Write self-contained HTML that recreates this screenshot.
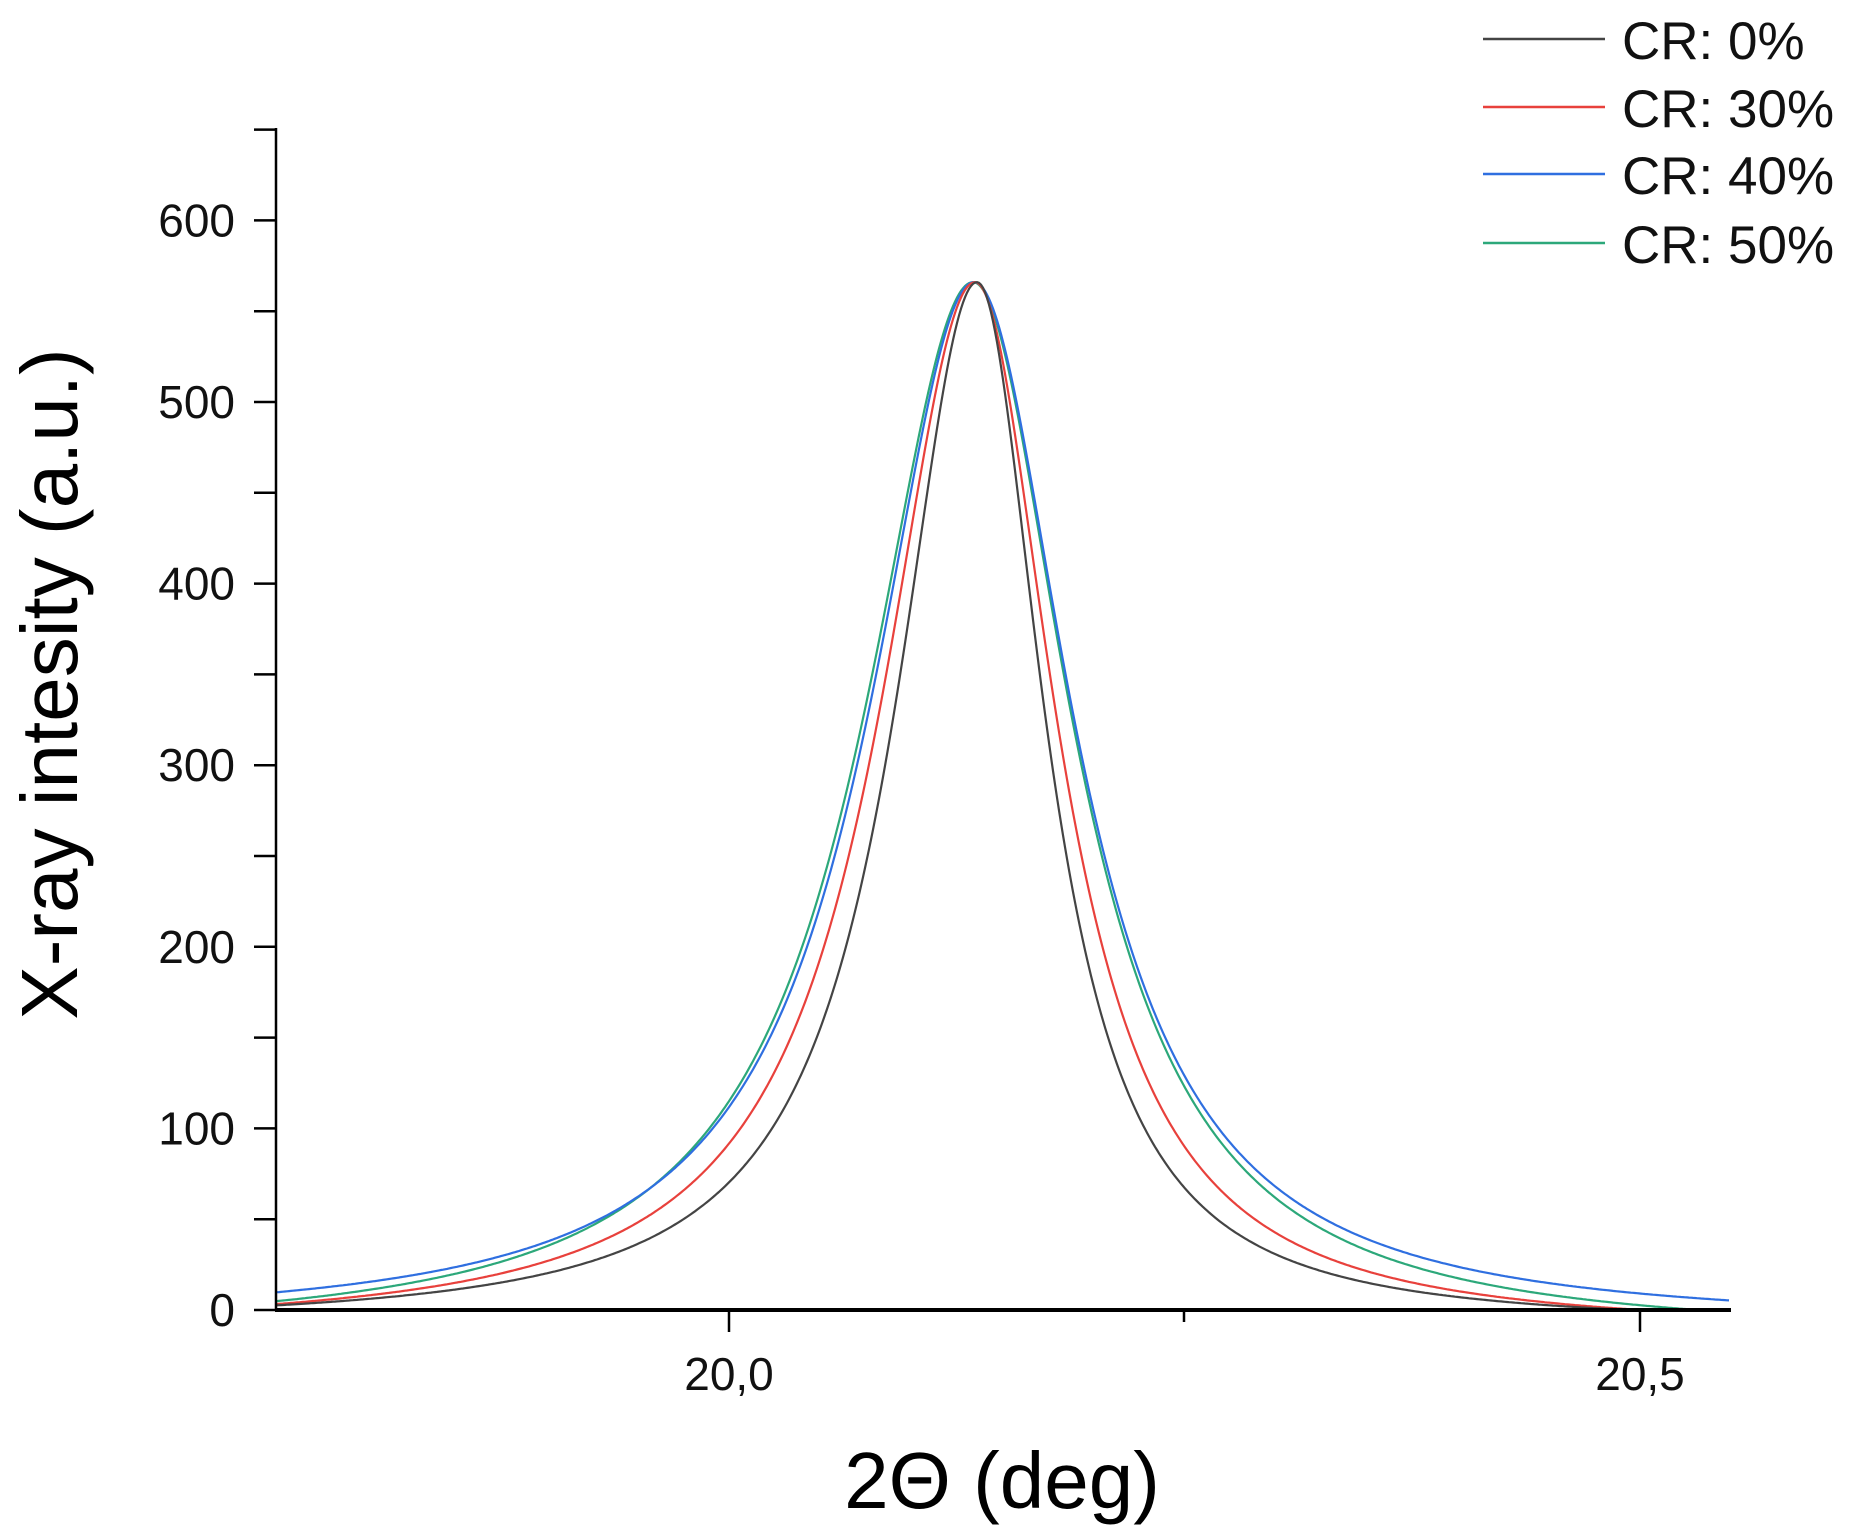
<!DOCTYPE html>
<html><head><meta charset="utf-8"><style>
html,body{margin:0;padding:0;background:#fff;}
svg{display:block;font-family:"Liberation Sans",sans-serif;}
</style></head><body>
<svg id="s" width="1855" height="1540" xmlns="http://www.w3.org/2000/svg">
<g id="curves" fill="none" stroke-width="2.2"></g>
<g stroke="#000" fill="none">
<line x1="276" y1="128" x2="276" y2="1311" stroke-width="2.5"/>
<line x1="275" y1="1310" x2="1731" y2="1310" stroke-width="4"/>
<g id="ticks" stroke-width="2.5"></g>
</g>
<g id="labels" font-size="46" fill="#111"></g>
<text transform="translate(56,684) rotate(-90)" text-anchor="middle" dominant-baseline="middle" font-size="80" fill="#000">X-ray intesity (a.u.)</text>
<text x="1002" y="1508" text-anchor="middle" font-size="80" fill="#000">2Θ (deg)</text>
<g stroke-width="2.5">
<line x1="1483" y1="39" x2="1605" y2="39" stroke="#444"/>
<line x1="1483" y1="107" x2="1605" y2="107" stroke="#e8413c"/>
<line x1="1483" y1="174" x2="1605" y2="174" stroke="#2f6fe0"/>
<line x1="1483" y1="243" x2="1605" y2="243" stroke="#2ca87a"/>
</g>
<g font-size="53" fill="#111">
<text x="1622" y="59">CR: 0%</text>
<text x="1622" y="127">CR: 30%</text>
<text x="1622" y="194">CR: 40%</text>
<text x="1622" y="263">CR: 50%</text>
</g>
</svg>
<script>
var NS="http://www.w3.org/2000/svg";
function el(t,a,p){var e=document.createElementNS(NS,t);for(var k in a)e.setAttribute(k,a[k]);p.appendChild(e);return e;}
var ticks=document.getElementById('ticks'),labels=document.getElementById('labels');
for(var v=0;v<=650;v+=50){var y=1310-v*1.816;el('line',{x1:254,y1:y,x2:276,y2:y},ticks);
 if(v%100==0){var t=el('text',{x:235,y:y+16,'text-anchor':'end'},labels);t.textContent=v;}}
[[729,22,'20,0'],[1640,22,'20,5'],[1184,12,null]].forEach(function(a){el('line',{x1:a[0],y1:1310,x2:a[0],y2:1310+a[1]},ticks);
 if(a[2]){var t=el('text',{x:a[0],y:1390,'text-anchor':'middle'},labels);t.textContent=a[2];}});
var cur=document.getElementById('curves');
// color, center, leftW, rightW, offset
var series=[['#2ca87a',973,131,118,15],['#2f6fe0',974,126,118,8.4],['#e8413c',975,115,97,12],['#444',977,99,81,8.7]];
series.forEach(function(s){var d='';for(var x=277;x<=1730;x+=2){var w=x<s[1]?s[2]:s[3];var u=(x-s[1])/w;var I=(566+s[4])/(1+u*u)-s[4];if(I<0)I=0;var y=1310-I*1.816;d+=(d?'L':'M')+x+' '+y.toFixed(1);}
 el('path',{d:d,stroke:s[0]},cur);});
</script>
</body></html>
